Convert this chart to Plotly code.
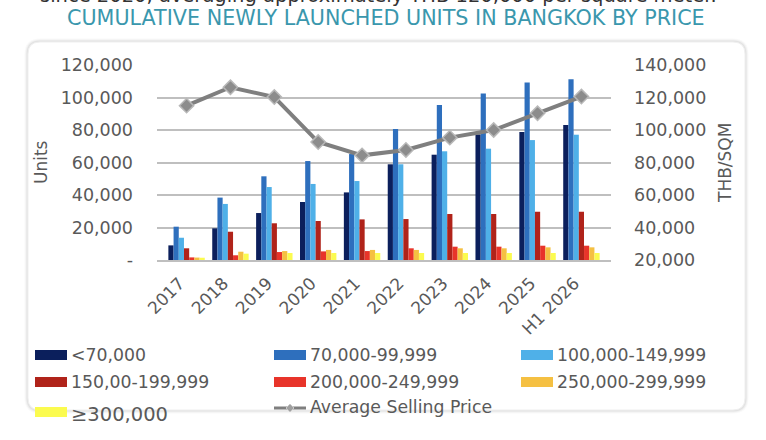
import plotly.graph_objects as go

categories = ["2017", "2018", "2019", "2020", "2021", "2022", "2023", "2024", "2025", "H1 2026"]

s_lt70 = [9000, 19500, 28900, 35700, 41600, 58900, 64800, 77300, 78800, 83100]
s_70_99 = [20500, 38400, 51500, 60900, 65200, 80600, 95400, 102400, 109300, 111200]
s_100_149 = [13700, 34500, 44900, 46800, 48600, 58900, 66900, 68500, 73800, 77100]
s_150_199 = [7200, 17400, 22600, 24000, 25000, 25200, 28300, 28300, 29700, 29700]
s_200_249 = [1600, 2900, 4900, 5300, 5500, 7200, 8200, 8200, 8800, 8800]
s_250_299 = [1500, 5100, 5500, 6200, 6200, 6200, 7200, 7200, 7800, 7800]
s_ge300 = [1400, 3900, 4300, 4300, 4300, 4300, 4300, 4300, 4300, 4300]
avg_price = [115000, 126300, 120300, 92600, 84400, 87700, 95300, 100000, 110300, 120600]

series_names = ["<70,000", "70,000-99,999", "100,000-149,999", "150,00-199,999",
                "200,000-249,999", "250,000-299,999", "≥300,000"]
series_values = [s_lt70, s_70_99, s_100_149, s_150_199, s_200_249, s_250_299, s_ge300]
series_colors = ["#0b1f5c", "#2e6fbd", "#4fb0e8", "#b0231a", "#e8342a", "#f5c042", "#fbfb4f"]
line_name = "Average Selling Price"

left_ticks = [0, 20000, 40000, 60000, 80000, 100000, 120000]
left_ticktext = ["-", "20,000", "40,000", "60,000", "80,000", "100,000", "120,000"]
right_ticks = [20000, 40000, 60000, 80000, 100000, 120000, 140000]
right_ticktext = ["20,000", "40,000", "60,000", "80,000", "100,000", "120,000", "140,000"]

FONT = "DejaVu Sans"
GREY = "#595959"
LINE_GREY = "#7f7f7f"

fig = go.Figure()
for name, vals, col in zip(series_names, series_values, series_colors):
    fig.add_trace(go.Bar(x=categories, y=vals, name=name, showlegend=False,
                         marker=dict(color=col, line=dict(width=0))))

fig.add_trace(go.Scatter(
    x=categories, y=avg_price, name=line_name, yaxis="y2", showlegend=False,
    mode="lines+markers",
    line=dict(color=LINE_GREY, width=4),
    marker=dict(symbol="diamond", size=11, color="#8c8c8c", line=dict(color="#b8b8b8", width=1.5)),
))

# plot area in pixels
L, R, T, B = 157, 611, 65, 260
W, H = 766, 440


def px_x(p):
    return (p - L) / (R - L)


def px_y(p):
    return (B - p) / (B - T)


shapes = []
# rounded card
cx0, cx1, cy0, cy1, rad = 28, 745, 42, 410, 12
path = (f"M {px_x(cx0 + rad)} {px_y(cy0)} L {px_x(cx1 - rad)} {px_y(cy0)} "
        f"Q {px_x(cx1)} {px_y(cy0)} {px_x(cx1)} {px_y(cy0 + rad)} "
        f"L {px_x(cx1)} {px_y(cy1 - rad)} Q {px_x(cx1)} {px_y(cy1)} {px_x(cx1 - rad)} {px_y(cy1)} "
        f"L {px_x(cx0 + rad)} {px_y(cy1)} Q {px_x(cx0)} {px_y(cy1)} {px_x(cx0)} {px_y(cy1 - rad)} "
        f"L {px_x(cx0)} {px_y(cy0 + rad)} Q {px_x(cx0)} {px_y(cy0)} {px_x(cx0 + rad)} {px_y(cy0)} Z")
for i, op in enumerate([0.025, 0.035, 0.05]):
    shapes.append(dict(type="path", xref="paper", yref="paper", path=path, layer="below",
                       fillcolor="rgba(0,0,0,0)", line=dict(color=f"rgba(0,0,0,{op})", width=7 - 2 * i)))
shapes.append(dict(type="path", xref="paper", yref="paper", path=path, layer="below",
                   fillcolor="white", line=dict(color="#efefef", width=1)))

annotations = [
    dict(text="since 2020, averaging approximately THB 120,000 per square meter.",
         x=px_x(378), y=px_y(-4.5), xref="paper", yref="paper", showarrow=False,
         font=dict(family=FONT, size=19.5, color="#333333"), xanchor="center", yanchor="middle"),
    dict(text="CUMULATIVE NEWLY LAUNCHED UNITS IN BANGKOK BY PRICE",
         x=px_x(386), y=px_y(18.5), xref="paper", yref="paper", showarrow=False,
         font=dict(family=FONT, size=20.7, color="#3a97ad"), xanchor="center", yanchor="middle"),
    dict(text="Units", x=px_x(41), y=px_y(162), xref="paper", yref="paper", showarrow=False,
         textangle=-90, font=dict(family=FONT, size=17, color=GREY), xanchor="center", yanchor="middle"),
    dict(text="THB/SQM", x=px_x(725), y=px_y(163), xref="paper", yref="paper", showarrow=False,
         textangle=-90, font=dict(family=FONT, size=17, color=GREY), xanchor="center", yanchor="middle"),
]

# manual legend: 3 columns
col_x = [35, 274, 521]
row_y = [355, 382, 408]
legend_items = list(zip(series_names, series_colors)) + [(line_name, None)]
for idx, (name, col) in enumerate(legend_items):
    cx = col_x[idx % 3]
    cy = row_y[idx // 3]
    ge = name.startswith("≥")
    if col is not None:
        off = 4 if ge else 0
        shapes.append(dict(type="rect", xref="paper", yref="paper",
                           x0=px_x(cx), x1=px_x(cx + 32), y0=px_y(cy - 5 + off), y1=px_y(cy + 5 + off),
                           fillcolor=col, line=dict(width=0)))
        ty = cy + (6 if ge else 0)
    else:
        shapes.append(dict(type="line", xref="paper", yref="paper",
                           x0=px_x(cx), x1=px_x(cx + 32), y0=px_y(cy), y1=px_y(cy),
                           line=dict(color=LINE_GREY, width=3)))
        d = 4
        dpath = (f"M {px_x(cx + 16)} {px_y(cy - d)} L {px_x(cx + 16 + d)} {px_y(cy)} "
                 f"L {px_x(cx + 16)} {px_y(cy + d)} L {px_x(cx + 16 - d)} {px_y(cy)} Z")
        shapes.append(dict(type="path", xref="paper", yref="paper", path=dpath,
                           fillcolor="#a0a0a0", line=dict(color="#c8c8c8", width=1)))
        ty = cy - 1
    annotations.append(dict(text=name, x=px_x(cx + 34), y=px_y(ty), xref="paper", yref="paper",
                            showarrow=False, xanchor="left", yanchor="middle",
                            font=dict(family=FONT, size=19.5 if ge else 17.3, color=GREY)))

fig.update_layout(
    width=W, height=H,
    margin=dict(l=L, r=W - R, t=T, b=H - B, autoexpand=False),
    paper_bgcolor="white", plot_bgcolor="rgba(0,0,0,0)",
    barmode="group", bargap=0.17, bargroupgap=0,
    font=dict(family=FONT, color=GREY),
    showlegend=False,
    xaxis=dict(tickangle=-45, tickfont=dict(family=FONT, size=17, color=GREY),
               showline=True, linecolor="#bfbfbf", linewidth=1.5, showgrid=False,
               ticks="", ticklabelstandoff=5, ticklabelshift=-7),
    yaxis=dict(range=[0, 120000], tickvals=left_ticks, ticktext=left_ticktext,
               tickfont=dict(family=FONT, size=17.5, color=GREY),
               showgrid=True, gridcolor="#bfbfbf", gridwidth=1.5, zeroline=False,
               ticks="", ticklabelstandoff=23),
    yaxis2=dict(range=[20000, 140000], tickvals=right_ticks, ticktext=right_ticktext,
                overlaying="y", side="right", showgrid=False, zeroline=False,
                tickfont=dict(family=FONT, size=17.5, color=GREY), ticks="", ticklabelstandoff=22),
    shapes=shapes,
    annotations=annotations,
)

fig.write_html("out.html")
